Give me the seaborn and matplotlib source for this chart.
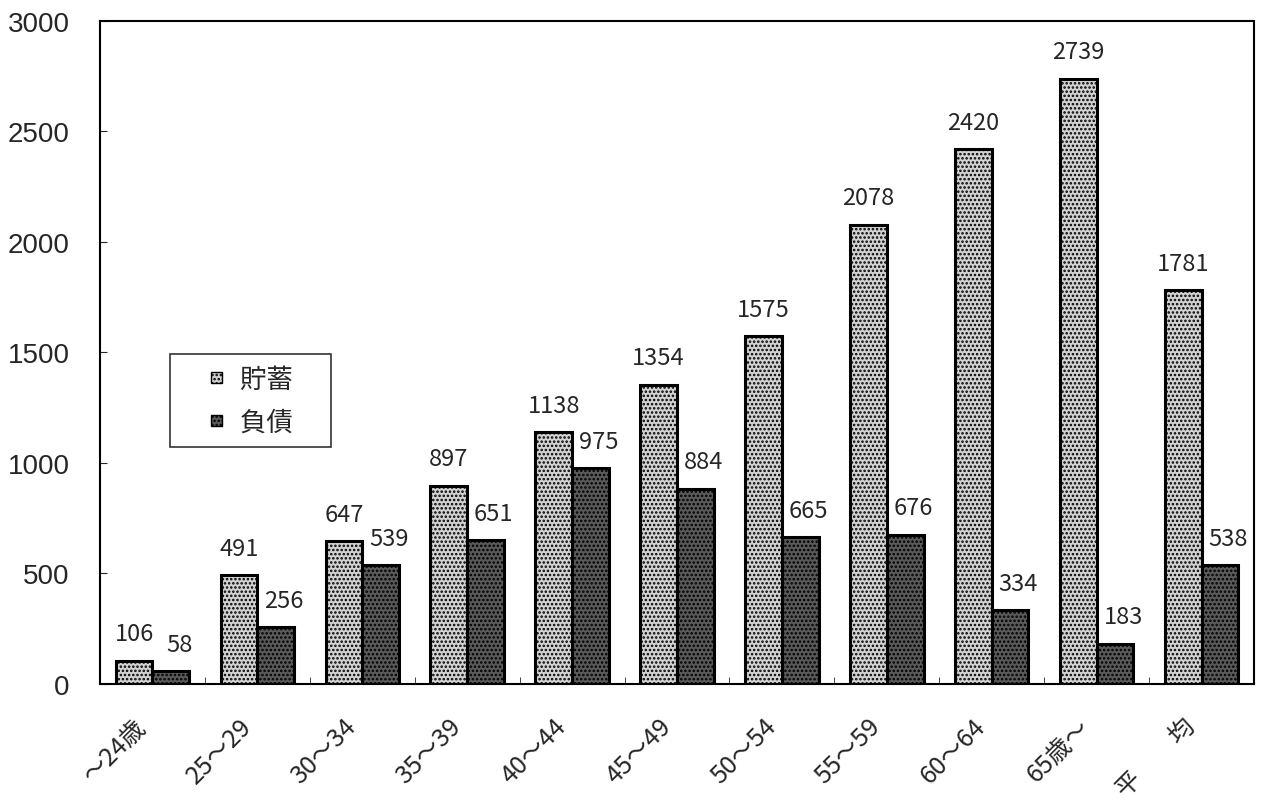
import pandas as pd
import matplotlib
matplotlib.use("Agg")
import matplotlib.pyplot as plt
import matplotlib.patches as mpatches
import matplotlib.transforms as mtrans
from matplotlib.legend_handler import HandlerPatch
import seaborn as sns

# 年齢階級別 貯蓄・負債
age_groups = ["～24歳", "25～29", "30～34", "35～39", "40～44", "45～49",
              "50～54", "55～59", "60～64", "65歳～", "平　　均"]
savings = [106, 491, 647, 897, 1138, 1354, 1575, 2078, 2420, 2739, 1781]
debts = [58, 256, 539, 651, 975, 884, 665, 676, 334, 183, 538]
series = ["貯蓄", "負債"]
colors = ["#d2d2d2", "#5a5a5a"]

df = pd.DataFrame({
    "age": age_groups * 2,
    "kind": [series[0]] * len(age_groups) + [series[1]] * len(age_groups),
    "value": savings + debts,
})

sns.set_style("white")
plt.rcParams["font.family"] = ["Noto Sans CJK JP", "DejaVu Sans"]
plt.rcParams["hatch.linewidth"] = 1.2

fig = plt.figure(figsize=(12.66, 8.03), dpi=100)
ax = fig.add_axes([0.079, 0.147, 0.9115, 0.8256])

sns.barplot(data=df, x="age", y="value", hue="kind", order=age_groups,
            hue_order=series, palette=colors, width=0.7, gap=0,
            edgecolor="black", linewidth=2.2, legend=False, ax=ax)

# 網かけ + 数値ラベル
for k, c in enumerate(ax.containers):
    dx = 0 if k == 0 else 6
    for p, v in zip(c.patches, c.datavalues):
        p.set_hatch("....")
        ax.annotate(f"{v:.0f}", (p.get_x() + p.get_width() / 2, p.get_height()),
                    xytext=(dx, 11), textcoords="offset points",
                    ha="center", va="bottom", fontsize=17)

ax.set_ylim(0, 3000)
ax.set_xlim(-0.5, len(age_groups) - 0.5)
ax.set_yticks(range(0, 3001, 500))
ax.set_yticklabels([str(v) for v in range(0, 3001, 500)],
                   family="Liberation Sans", fontsize=20)
ax.tick_params(axis="y", direction="in", length=5, left=True, pad=22)
ax.set_xticks(range(len(age_groups)))
ax.set_xticklabels(age_groups, rotation=45, ha="right", rotation_mode="anchor",
                   fontsize=18)
ax.tick_params(axis="x", length=0, pad=21)
shift = mtrans.ScaledTranslation(-0.19, 0, fig.dpi_scale_trans)
for t in ax.get_xticklabels():
    t.set_transform(t.get_transform() + shift)
# 区切りの目盛り
ax.set_xticks([i + 0.5 for i in range(-1, len(age_groups))], minor=True)
ax.tick_params(axis="x", which="minor", direction="in", length=5, bottom=True)
ax.set_xlabel("")
ax.set_ylabel("")

for s in ["top", "right", "left"]:
    ax.spines[s].set_linestyle((0, (1, 1)))
    ax.spines[s].set_linewidth(1.5)
ax.spines["bottom"].set_linewidth(1.5)
for s in ax.spines.values():
    s.set_color("black")


# 凡例: 小さい四角
def small_square(legend, orig_handle, xdescent, ydescent, width, height, fontsize):
    s = 8
    return mpatches.Rectangle((width - s - xdescent, (height - s) / 2 - ydescent), s, s)


handles = [mpatches.Patch(facecolor=colors[i], edgecolor="black", hatch="....",
                          linewidth=1, label=series[i] + "\u3000")
           for i in range(2)]
leg = ax.legend(handles=handles, loc="upper left", bbox_to_anchor=(0.061, 0.498),
                fontsize=19, frameon=True, fancybox=False, edgecolor="black",
                handlelength=1.5, handleheight=0.7, handletextpad=0.7,
                labelspacing=0.6, borderpad=0.45, borderaxespad=0,
                handler_map={mpatches.Patch: HandlerPatch(patch_func=small_square)})
leg.get_frame().set_linewidth(1.2)

fig.savefig("out.png", dpi=100)
